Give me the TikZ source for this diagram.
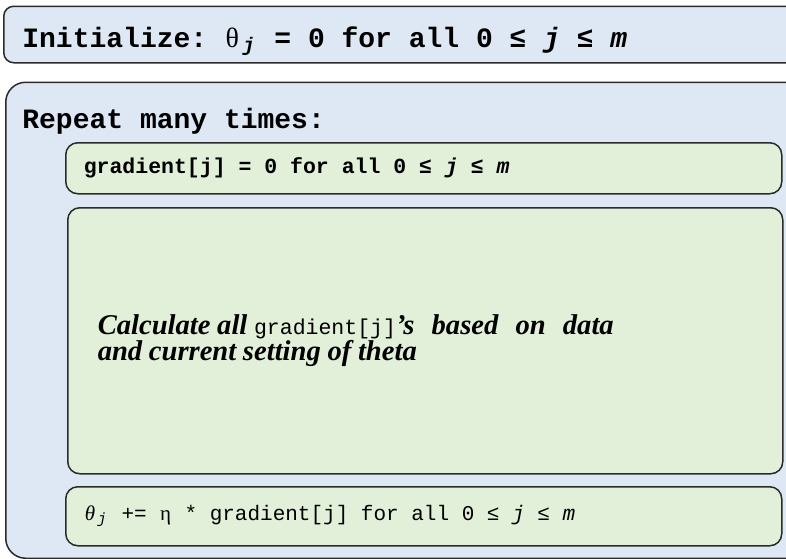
\documentclass[tikz,border=0pt]{standalone}
\usepackage{fontspec}
\setmainfont{Liberation Serif}
\setmonofont{Liberation Mono}
\usetikzlibrary{positioning}

\definecolor{loopblue}{HTML}{DEE8F5}
\definecolor{stepgreen}{HTML}{E2EFD9}
\definecolor{edgegray}{HTML}{2B2B2B}

% one mono-width cell, so symbols keep the column pitch
\newcommand{\cell}[1]{\makebox[0.6em]{#1}}
\newcommand{\rangej}{0 \cell{≤} \cell{\textit{j}} \cell{≤} \cell{\textit{m}}}

\begin{document}
\begin{tikzpicture}[
    x=0.5pt, y=-0.5pt,
    every node/.style={inner sep=0pt},
    loop_box/.style={
            draw=edgegray,
            line width=0.75pt,
            fill=loopblue,
            anchor=north west,
            minimum width=415pt
        },
    step_box/.style={
            draw=edgegray,
            line width=0.75pt,
            fill=stepgreen,
            rounded corners=6pt,
            anchor=north west,
            align=left,
            inner xsep=9pt,
            text width=340pt,
            minimum width=358pt
        },
    head_text/.style={anchor=base west, font=\ttfamily\bfseries\fontsize{14}{16}\selectfont},
    % full-width spaces again after align=left
    mono_spaces/.style={execute at begin node={\spaceskip=0pt\xspaceskip=0pt\relax}},
    code_text/.style={mono_spaces, font=\ttfamily\fontsize{10.5}{13}\selectfont},
    code_bold/.style={mono_spaces, font=\ttfamily\bfseries\fontsize{10.75}{13}\selectfont},
    ]

    \useasboundingbox (0,0) rectangle (786,558);
    \clip (0,0) rectangle (786,558);

    % --- Initialization ---
    \node (init) [loop_box, rounded corners=5pt, minimum height=28.25pt] at (3,5.5) {};
    \node (init_text) [head_text] at (22,47)
    {Initialize: \cell{\rmfamily\mdseries θ}\cell{\textsubscript{\textit{j}}} = 0 for all \rangej};

    % --- Main loop ---
    \node (repeat) [loop_box, rounded corners=10pt, minimum height=238pt] at (5,81.5) {};
    \node (repeat_text) [head_text] at (22,128) {Repeat many times:};

    % --- Steps inside the loop ---
    \node (reset) [step_box, code_bold, minimum height=25.5pt] at (65,142)
    {gradient[j] = 0 for all \rangej};
    \node (calc) [step_box, inner xsep=15pt, text width=327.5pt, minimum width=357.5pt,
        minimum height=133pt] at (67,207)
    {\bfseries\itshape\fontsize{14.3}{15}\selectfont
        Calculate all {\ttfamily\mdseries\upshape\fontsize{10.75}{15}\selectfont gradient[j]}'s\hspace{0.6em}based\hspace{0.6em}on\hspace{0.6em}data\\
        and current setting of theta};
    \node (update) [step_box, code_text, minimum height=29.5pt] at (65,486)
    {\cell{\rmfamily\itshape θ}\cell{\textsubscript{\textit{j}}} += \cell{\rmfamily η} * gradient[j] for all \rangej};

\end{tikzpicture}
\end{document}
